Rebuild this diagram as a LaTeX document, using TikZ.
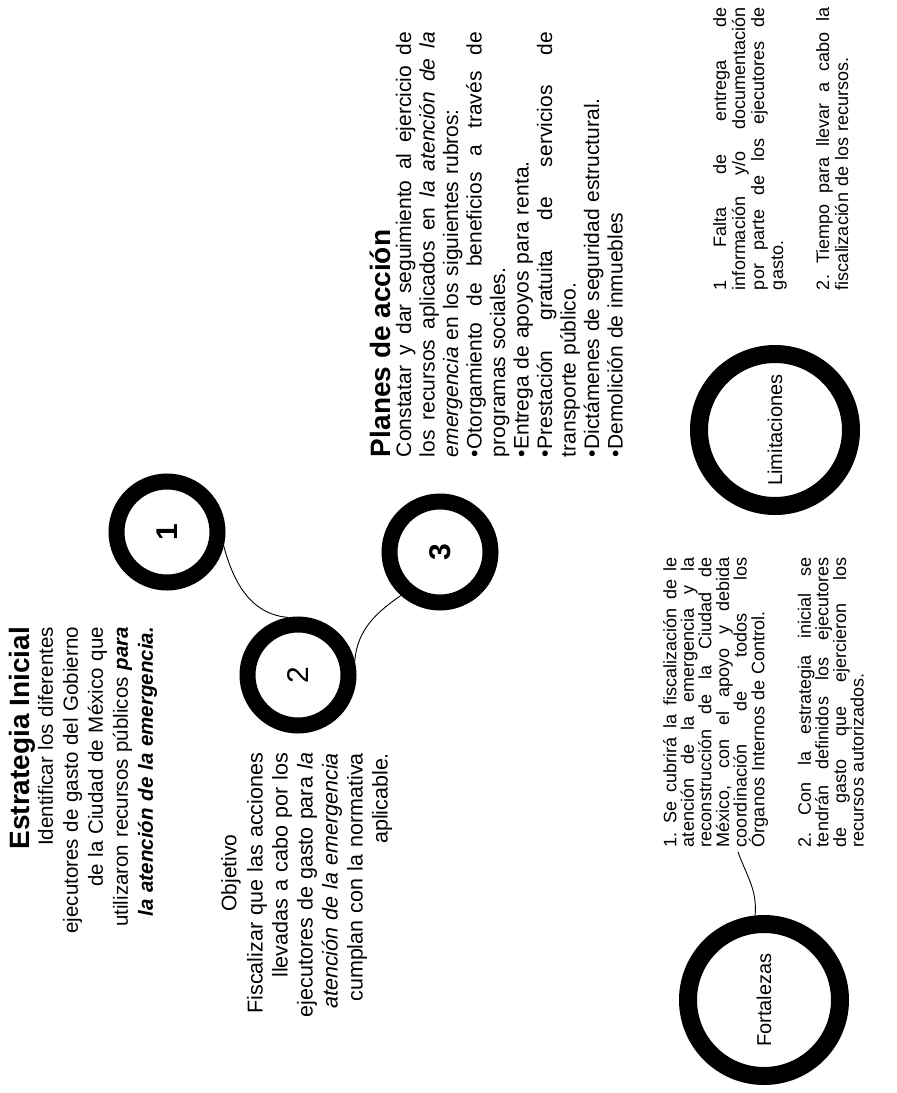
\documentclass[tikz,border=0pt]{standalone}
\usepackage{fontspec}
\usepackage{graphicx}
\setmainfont{Liberation Sans}
\newcommand\jline[1]{\leavevmode\hbox to\linewidth{\spaceskip=.28em plus 1fil\xspaceskip=.28em plus 1fil\relax#1}}
\begin{document}
\begin{tikzpicture}[x=1pt,y=-1pt,
  ring/.style={circle, draw=black, line width=16pt, minimum size=101pt, inner sep=0pt},
  bigring/.style={circle, draw=black, line width=18pt, minimum size=152pt, inner sep=0pt, font=\fontsize{20}{22}\selectfont},
  rot/.style={rotate=90, inner sep=0pt, outer sep=0pt},
  head/.style={rot, font=\bfseries\fontsize{28}{30}\selectfont},
  conn/.style={line width=0.9pt}
]
\useasboundingbox (0,0) rectangle (897,1093);

% Estrategia inicial
\node[head, anchor=east] (eh) at (22,627) {Estrategia Inicial};
\node[rot, anchor=north east, text width=330pt, align=right,
      font=\fontsize{20.5}{25}\selectfont] (ep) at (38,627)
 {Identificar los diferentes\\
  ejecutores de gasto del Gobierno\\
  de la Ciudad de México que\\
  utilizaron recursos públicos \textbf{\textit{para}}\\
  \textbf{\textit{la atención de la emergencia.}}};

% circles
\node[ring, font=\bfseries\fontsize{30}{30}\selectfont] (c1) at (167,532) {\rotatebox{90}{1}};
\node[ring, font=\fontsize{30}{30}\selectfont] (c2) at (298,675) {\rotatebox{90}{2}};
\node[ring, font=\bfseries\fontsize{30}{30}\selectfont] (c3) at (440,552) {\rotatebox{90}{3}};
\draw[conn] (c1.-14) to[out=-75,in=175] (c2.100);
\draw[conn] (c2.14) to[out=85,in=215] (c3.228);

% Objetivo
\node[rot, font=\fontsize{21}{23}\selectfont] (oh) at (231,873) {Objetivo};
\node[rot, anchor=north east, text width=280pt, align=right,
      font=\fontsize{21.5}{25}\selectfont] (op) at (247,753)
 {Fiscalizar que las acciones\\
  llevadas a cabo por los\\
  ejecutores de gasto para \textit{la}\\
  \textit{atención de la emergencia}\\
  cumplan con la normativa\\
  aplicable.};

% Planes de accion
\node[head, anchor=west] (ph) at (380,457) {Planes de acción};
\node[rot, anchor=north west, text width=425pt, align=left,
      font=\fontsize{21}{23.5}\selectfont] (pp) at (396,457)
 {\jline{Constatar y dar seguimiento al ejercicio de}\\
  \jline{los recursos aplicados en \textit{la atención de la}}\\
  \textit{emergencia} en los siguientes rubros:\\
  \jline{•Otorgamiento de beneficios a través de}\\
  programas sociales.\\
  •Entrega de apoyos para renta.\\
  \jline{•Prestación gratuita de servicios de}\\
  transporte público.\\
  •Dictámenes de seguridad estructural.\\
  •Demolición de inmuebles};

% Limitaciones
\node[bigring] (lc) at (775,430) {\rotatebox{90}{Limitaciones}};
\node[rot, anchor=north west, text width=283pt, align=left,
      font=\fontsize{18}{19}\selectfont] (lt) at (713,290)
 {\jline{1 Falta de entrega de}\\
  \jline{información y/o documentación}\\
  \jline{por parte de los ejecutores de}\\
  gasto.\\[27pt]
  \jline{2. Tiempo para llevar a cabo la}\\
  fiscalización de los recursos.};

% Fortalezas
\node[bigring] (fc) at (764,1000) {\rotatebox{90}{Fortalezas}};
\coordinate (fend) at (738,852);
\draw[conn] (fc.96) to[out=85,in=-70] (fend);
\node[rot, anchor=north west, text width=290pt, align=left,
      font=\fontsize{18}{17.6}\selectfont] (ft) at (663,847)
 {\jline{1. Se cubrirá la fiscalización de le}\\
  \jline{atención de la emergencia y la}\\
  \jline{reconstrucción de la Ciudad de}\\
  \jline{México, con el apoyo y debida}\\
  \jline{coordinación de todos los}\\
  Órganos Internos de Control.\\[29pt]
  \jline{2. Con la estrategia inicial se}\\
  \jline{tendrán definidos los ejecutores}\\
  \jline{de gasto que ejercieron los}\\
  recursos autorizados.};
\end{tikzpicture}
\end{document}
